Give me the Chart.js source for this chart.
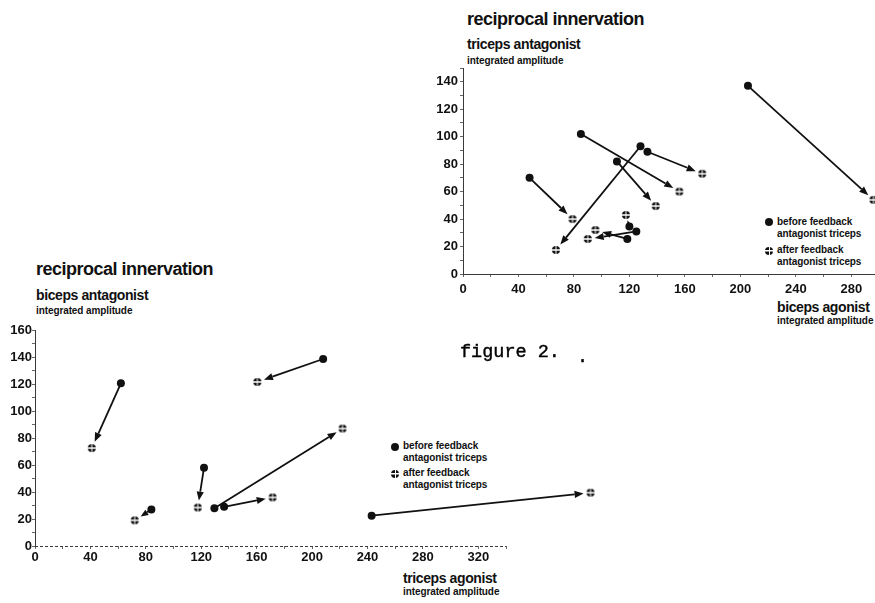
<!DOCTYPE html>
<html>
<head>
<meta charset="utf-8">
<title>reciprocal innervation</title>
<script src="https://cdn.jsdelivr.net/npm/chart.js@4.4.0/dist/chart.umd.min.js"></script>
<style>
  html, body { margin: 0; padding: 0; background: #fff; }
  body { width: 875px; height: 603px; position: relative; overflow: hidden;
         font-family: 'Liberation Sans', Arial, sans-serif; color: #111; }
  canvas { position: absolute; }
  .txt { position: absolute; font-weight: bold; line-height: 1; white-space: nowrap; }
  .title { font-size: 18px; letter-spacing: -0.5px; }
  .axis-name { font-size: 14px; letter-spacing: -0.4px; }
  .axis-sub { font-size: 10px; letter-spacing: -0.1px; }
  .legend { position: absolute; font-size: 10px; font-weight: bold; white-space: nowrap; letter-spacing: -0.1px; }
  .mk { position: absolute; width: 8px; height: 8px; border-radius: 50%; background: #111; }
  .mk.after {
    background: linear-gradient(#fff, #fff) center / 100% 1.5px no-repeat,
                linear-gradient(#fff, #fff) center / 1px 100% no-repeat, #111;
  }
  .fig { position: absolute; font-family: 'Liberation Mono', 'Courier New', monospace;
         font-size: 18.5px; line-height: 1; white-space: nowrap; color: #000;
         -webkit-text-stroke: 0.4px #000; }
</style>
</head>
<body>

<!-- top-right panel -->
<div class="txt title" style="left:467px; top:10px;">reciprocal innervation</div>
<div class="txt axis-name" style="left:467px; top:37px;">triceps antagonist</div>
<div class="txt axis-sub" style="left:467px; top:56px;">integrated amplitude</div>
<div class="txt axis-name" style="left:777px; top:300px;">biceps agonist</div>
<div class="txt axis-sub" style="left:777px; top:316px;">integrated amplitude</div>

<span class="mk" style="left:765px; top:218px;"></span>
<div class="legend" style="left:777px; top:216px; line-height:11.7px;">before feedback<br>antagonist triceps</div>
<span class="mk after" style="left:765px; top:247px;"></span>
<div class="legend" style="left:777px; top:244px; line-height:11.7px;">after feedback<br>antagonist triceps</div>

<canvas id="topChart" width="475" height="252" style="left:415px; top:58px; width:475px; height:252px;"></canvas>

<!-- bottom-left panel -->
<div class="txt title" style="left:36px; top:260px;">reciprocal innervation</div>
<div class="txt axis-name" style="left:36px; top:288px;">biceps antagonist</div>
<div class="txt axis-sub" style="left:36px; top:306px;">integrated amplitude</div>
<div class="txt axis-name" style="left:403px; top:571px;">triceps agonist</div>
<div class="txt axis-sub" style="left:403px; top:587px;">integrated amplitude</div>

<span class="mk" style="left:391px; top:443px;"></span>
<div class="legend" style="left:403px; top:440px; line-height:12px;">before feedback<br>antagonist triceps</div>
<span class="mk after" style="left:391px; top:470px;"></span>
<div class="legend" style="left:403px; top:467px; line-height:12px;">after feedback<br>antagonist triceps</div>

<canvas id="bottomChart" width="620" height="262" style="left:0px; top:318px; width:620px; height:262px;"></canvas>

<div class="fig" style="left:460px; top:344px;">figure 2.</div>
<div class="fig" style="left:577px; top:349px;">.</div>

<script>
// top panel: biceps agonist (x) vs triceps antagonist (y)
const topBeforeX = [48, 85, 128, 133, 111, 118.5, 125, 120, 205.5];
const topBeforeY = [70, 102, 93, 89, 82, 25.5, 31, 34.5, 137];
const topAfterX  = [79, 156, 67, 172.5, 139, 95.5, 90, 117.5, 296];
const topAfterY  = [40, 60, 17.5, 73, 49.5, 32, 25.5, 43, 54];

// bottom panel: triceps agonist (x) vs biceps antagonist (y)
const botBeforeX = [62, 208, 122, 84, 129.5, 136.5, 243];
const botBeforeY = [120.5, 138.5, 58, 27, 28, 29, 22.5];
const botAfterX  = [41, 160.5, 117.5, 72, 222, 171.5, 401];
const botAfterY  = [72.5, 121.5, 28.5, 19, 87, 36, 39.5];

const INK = '#111';
const AXIS_COLOR = '#3a3a3a';

Chart.defaults.font.family = "'Liberation Sans', Arial, sans-serif";
Chart.defaults.color = INK;

// hatched "after feedback" marker
function makeAfterMarker(r) {
  const c = document.createElement('canvas');
  const s = r * 2 + 2;
  c.width = s;
  c.height = s;
  const g = c.getContext('2d');
  g.fillStyle = INK;
  g.beginPath();
  g.arc(s / 2, s / 2, r, 0, Math.PI * 2);
  g.fill();
  g.fillStyle = '#fff';
  g.fillRect(0, s / 2 - 0.75, s, 1.5);
  g.fillRect(s / 2 - 0.5, 0, 1, s);
  return c;
}
const afterMarker = makeAfterMarker(4);

function toPoints(xs, ys) {
  return xs.map((x, i) => ({ x: x, y: ys[i] }));
}

// arrows from each "before" point to its "after" point
const arrowPlugin = {
  id: 'arrows',
  beforeDatasetsDraw(chart) {
    const from = chart.getDatasetMeta(0).data;
    const to = chart.getDatasetMeta(1).data;
    const ctx = chart.ctx;
    const a = chart.chartArea;
    ctx.save();
    ctx.beginPath();
    ctx.rect(a.left, a.top, a.right - a.left, a.bottom - a.top);
    ctx.clip();
    ctx.strokeStyle = INK;
    ctx.fillStyle = INK;
    ctx.lineWidth = 1.8;
    from.forEach((p, i) => {
      const q = to[i];
      const dx = q.x - p.x, dy = q.y - p.y;
      const dist = Math.hypot(dx, dy);
      if (!dist) return;
      const ux = dx / dist, uy = dy / dist;
      const tip = Math.max(dist - 7, dist * 0.55);
      const head = Math.min(9, tip * 0.6);
      const tx = p.x + ux * tip, ty = p.y + uy * tip;
      const bx = tx - ux * head, by = ty - uy * head;
      ctx.beginPath();
      ctx.moveTo(p.x, p.y);
      ctx.lineTo(bx, by);
      ctx.stroke();
      ctx.beginPath();
      ctx.moveTo(tx, ty);
      ctx.lineTo(bx - uy * head * 0.4, by + ux * head * 0.4);
      ctx.lineTo(bx + uy * head * 0.4, by - ux * head * 0.4);
      ctx.closePath();
      ctx.fill();
    });
    ctx.restore();
  }
};

// dashed x axis line that stops at a given value (the data runs on past it)
const xLinePlugin = {
  id: 'xLine',
  afterDraw(chart, args, opts) {
    if (opts.end == null) return;
    const x = chart.scales.x;
    const y = chart.chartArea.bottom + 0.5;
    const ctx = chart.ctx;
    ctx.save();
    ctx.strokeStyle = AXIS_COLOR;
    ctx.lineWidth = 1;
    ctx.setLineDash([3, 2]);
    ctx.beginPath();
    ctx.moveTo(x.getPixelForValue(0), y);
    ctx.lineTo(x.getPixelForValue(opts.end), y);
    ctx.stroke();
    ctx.restore();
  }
};

function axis(max, step, labelMax, size, isX, pad, lineEnd) {
  const tickEnd = lineEnd == null ? max : lineEnd;
  return {
    type: 'linear',
    min: 0,
    max: max,
    border: { display: lineEnd == null, color: AXIS_COLOR, width: 1, dash: [3, 2] },
    grid: {
      display: true,
      drawOnChartArea: false,
      drawTicks: true,
      tickLength: 3,
      color: c => (c.tick && c.tick.value > tickEnd) ? 'rgba(0,0,0,0)' : '#666'
    },
    ticks: {
      stepSize: step,
      autoSkip: false,
      maxRotation: 0,
      padding: pad,
      color: INK,
      font: { size: 13, weight: 'bold' },
      callback: v => (v % (step * 2) === 0 && v <= labelMax) ? String(v) : ''
    },
    afterFit: s => {
      if (isX) s.height = size; else s.width = size;
    }
  };
}

function makeChart(id, bx, by, ax, ay, xAxis, yAxis, padding, lineEnd) {
  const ctx = document.getElementById(id).getContext('2d');
  return new Chart(ctx, {
    type: 'scatter',
    data: {
      datasets: [
        {
          label: 'before feedback antagonist triceps',
          data: toPoints(bx, by),
          pointStyle: 'circle',
          pointRadius: 4,
          pointBackgroundColor: INK,
          pointBorderWidth: 0
        },
        {
          label: 'after feedback antagonist triceps',
          data: toPoints(ax, ay),
          pointStyle: afterMarker,
          pointRadius: 4
        }
      ]
    },
    options: {
      responsive: false,
      animation: false,
      devicePixelRatio: 1,
      layout: { padding: padding },
      plugins: {
        legend: { display: false },
        tooltip: { enabled: false },
        xLine: { end: lineEnd }
      },
      scales: { x: xAxis, y: yAxis }
    },
    plugins: [arrowPlugin, xLinePlugin]
  });
}

makeChart('topChart', topBeforeX, topBeforeY, topAfterX, topAfterY,
  axis(300, 20, 280, 36, true, 5),
  axis(150, 10, 140, 48, false, 2),
  { top: 10, right: 11, left: 0, bottom: 0 }, null);

// the last "after" point lies past the end of the drawn x axis (340)
makeChart('bottomChart', botBeforeX, botBeforeY, botAfterX, botAfterY,
  axis(410, 20, 320, 34, true, 1, 340),
  axis(160, 10, 160, 35, false, 0),
  { top: 12, right: 17, left: 0, bottom: 0 }, 340);
</script>
</body>
</html>
